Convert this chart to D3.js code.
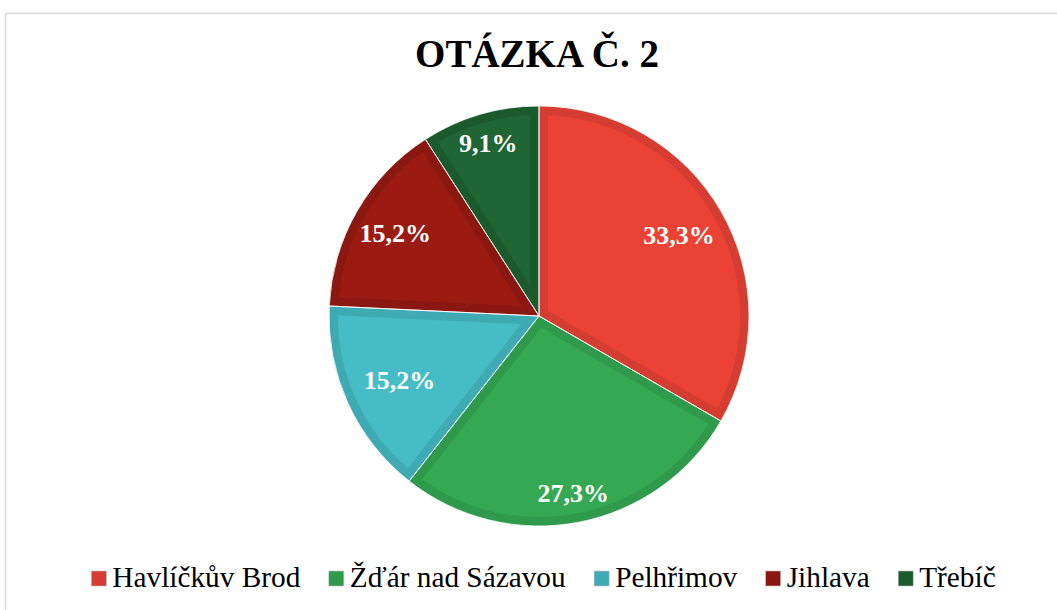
<!DOCTYPE html>
<html><head><meta charset="utf-8">
<script src="https://cdn.jsdelivr.net/npm/d3@7"></script>
<style>html,body{margin:0;padding:0;background:#fff;}svg{display:block;}
text{font-family:'Liberation Serif','Times New Roman',serif;}</style>
</head><body>
<svg id="c" width="1057" height="610"></svg>
<script>
const categories = ["Havlíčkův Brod", "Žďár nad Sázavou", "Pelhřimov", "Jihlava", "Třebíč"];
const values = [11, 9, 5, 5, 3];
const labels = ["33,3%", "27,3%", "15,2%", "15,2%", "9,1%"];
const fills = ["#EA4335", "#34A853", "#46BDC6", "#9B1B12", "#1F6634"];
const borders = ["#D53D33", "#2F9A4B", "#3EABB4", "#8A1810", "#1B5A2D"];
const title = "OTÁZKA Č. 2";
const labelRadiusFactor = [0.77, 0.86, 0.73, 0.79, 0.86];

const svg = d3.select("#c");
svg.append("rect").attr("x", 5.5).attr("y", 13.5).attr("width", 1100).attr("height", 700)
  .attr("fill", "#fff").attr("stroke", "#d9d9d9").attr("stroke-width", 1.5);

svg.append("text").attr("x", 537).attr("y", 67).attr("text-anchor", "middle")
  .style("font-weight", "bold").style("font-size", "39px").attr("fill", "#000").text(title);

const cx = 539, cy = 316, R = 210;
const pie = d3.pie().sort(null).value(d => d)(values);
const arc = d3.arc().innerRadius(0).outerRadius(R);
const g = svg.append("g").attr("transform", `translate(${cx},${cy})`);
const defs = svg.append("defs");
pie.forEach((p, i) => {
  defs.append("clipPath").attr("id", "cp" + i).append("path").attr("d", arc(p));
  g.append("path").attr("d", arc(p)).attr("fill", fills[i])
    .attr("stroke", borders[i]).attr("stroke-width", 18).attr("stroke-linejoin", "miter")
    .attr("clip-path", `url(#cp${i})`);
});
pie.forEach((p, i) => {
  g.append("path").attr("d", arc(p)).attr("fill", "none").attr("stroke", "#fff").attr("stroke-width", 0.8);
});
pie.forEach((p, i) => {
  const r = R * labelRadiusFactor[i];
  const c = d3.arc().innerRadius(r).outerRadius(r).centroid(p);
  g.append("text").attr("x", c[0]).attr("y", c[1] + 9).attr("text-anchor", "middle")
    .style("font-weight", "bold").style("font-size", "26px").attr("fill", "#fff").text(labels[i]);
});

// legend
const lg = svg.append("g");
const items = categories.map((c, i) => {
  const it = lg.append("g");
  it.append("rect").attr("x", 0).attr("y", -16).attr("width", 15).attr("height", 15)
    .attr("fill", borders[i]).attr("stroke", "#bfbfbf").attr("stroke-width", 0.6);
  const t = it.append("text").attr("x", 21).attr("y", 0)
    .style("font-size", "29.3px").attr("fill", "#000").text(c);
  return {it, w: 21 + t.node().getComputedTextLength()};
});
const gap = 28.5;
const total = d3.sum(items, d => d.w) + gap * (items.length - 1);
let x = 543.5 - total / 2;
items.forEach(d => { d.it.attr("transform", `translate(${x},587)`); x += d.w + gap; });
</script>
</body></html>
